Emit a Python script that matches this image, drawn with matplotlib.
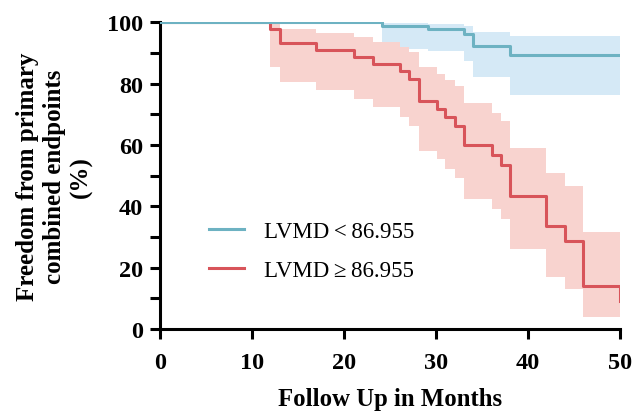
import matplotlib
matplotlib.use("Agg")
import matplotlib.pyplot as plt
from matplotlib.ticker import MultipleLocator

# Kaplan-Meier style step data
low_t = [0, 24.1, 29.1, 33.0, 34.0, 38.0, 50]
low_s = [100, 98.9, 97.8, 96.0, 92.4, 89.4, 89.4]
low_hi = [100, 99.8, 99.5, 98.6, 96.7, 95.6, 95.6]
low_lo = [100, 91.2, 90.6, 87.5, 82.1, 76.4, 76.4]

high_t = [0, 12, 13, 17, 21.1, 23.1, 26.1, 27.1, 28.1, 30.1, 31.0, 32.1, 33.0,
          36.05, 37.05, 38.05, 42, 44, 46, 50]
high_s = [100, 97.8, 93.2, 90.9, 88.6, 86.4, 84.0, 81.5, 74.2, 71.7, 69.0, 66.3,
          60.0, 56.6, 53.4, 43.5, 33.7, 28.8, 14.1, 9.2]
high_hi = [100, 99.6, 97.8, 96.4, 95.1, 93.5, 92.0, 90.2, 85.3, 83.1, 81.3, 79.3,
           73.6, 70.5, 67.9, 59.0, 50.9, 46.5, 31.5, 31.5]
high_lo = [100, 85.3, 80.4, 77.9, 75.0, 72.3, 69.0, 66.3, 58.1, 55.4, 52.2, 49.1,
           42.5, 39.1, 35.9, 26.1, 16.9, 13.0, 3.8, 3.8]

labels = ["LVMD\u2009<\u200986.955", "LVMD\u2009\u2265\u200986.955"]

blue, blue_band = "#6db2c2", "#d5e9f6"
red, red_band = "#d8545a", "#f8d3cf"

plt.rcParams['font.family'] = ['Liberation Serif', 'DejaVu Serif']

fig = plt.figure(figsize=(6.34, 4.14), dpi=100)
ax = fig.add_axes([0.2524, 0.2029, 0.7256, 0.7411])

ax.fill_between(low_t, low_lo, low_hi, step='post', color=blue_band, lw=0, zorder=1)
ax.fill_between(high_t, high_lo, high_hi, step='post', color=red_band, lw=0, zorder=2)
ax.step(high_t, high_s, where='post', color=red, lw=2.2, label=labels[1], zorder=3)
ax.step(low_t, low_s, where='post', color=blue, lw=2.2, label=labels[0], zorder=4)

ax.set_xlim(0, 50)
ax.set_ylim(0, 100)
ax.xaxis.set_major_locator(MultipleLocator(10))
ax.yaxis.set_major_locator(MultipleLocator(20))
ax.yaxis.set_minor_locator(MultipleLocator(10))

for s in ['top', 'right']:
    ax.spines[s].set_visible(False)
for s in ['left', 'bottom']:
    ax.spines[s].set_linewidth(2.2)

ax.tick_params(axis='both', which='both', width=2.2, length=7.5, direction='out')
ax.tick_params(axis='y', pad=4.5)
ax.tick_params(axis='x', pad=9)
for lab in ax.get_xticklabels() + ax.get_yticklabels():
    lab.set_fontsize(17.5)
    lab.set_fontweight('bold')

ax.set_xlabel("Follow Up in Months", fontsize=17.8, fontweight='bold', labelpad=10)
ax.set_ylabel("Freedom from primary\ncombined endpoints\n(%)", fontsize=18,
              fontweight='bold', labelpad=10, linespacing=1.22)

h, l = ax.get_legend_handles_labels()
ax.legend(h[::-1], l[::-1], loc='upper left', bbox_to_anchor=(0.106, 0.353),
          frameon=False, fontsize=16.5, handlelength=1.55, handletextpad=0.85,
          labelspacing=0.78, borderpad=0, borderaxespad=0)

fig.savefig("out.png", dpi=100)
